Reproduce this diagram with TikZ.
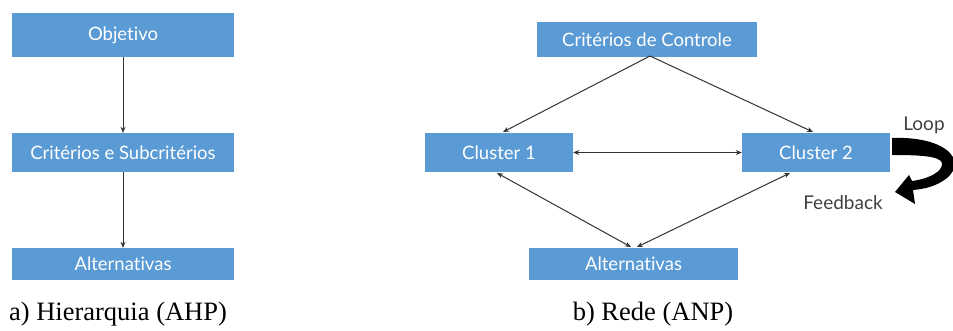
\documentclass[tikz,border=0pt]{standalone}
\usepackage{fontspec}
\setmainfont{Liberation Serif}
\newfontfamily\boxfont[Ligatures=NoCommon]{Lato}
\usetikzlibrary{arrows.meta}
\definecolor{boxblue}{HTML}{5B9BD5}
\definecolor{lblgray}{HTML}{404040}
\begin{document}
\begin{tikzpicture}[x=1pt,y=-1pt,
  blk/.style={fill=boxblue, draw=none, text=white, font=\boxfont\fontsize{18.5}{22}\selectfont, inner sep=0pt},
  link/.style={draw=black!80, line width=1pt, -{Stealth[length=6pt,width=5pt]}},
  dlink/.style={link, {Stealth[length=6pt,width=5pt]}-{Stealth[length=6pt,width=5pt]}},
  captext/.style={font=\fontsize{26.5}{30}\selectfont, anchor=center},
  note/.style={text=lblgray, font=\boxfont\fontsize{19}{22}\selectfont}]
\useasboundingbox (0,0) rectangle (953,331);
% a) hierarchy
\node[blk, minimum width=222pt, minimum height=44pt] (obj) at (123,35) {Objetivo};
\node[blk, minimum width=222pt, minimum height=39pt] (crit) at (123,152.5) {Critérios e Subcritérios};
\node[blk, minimum width=222pt, minimum height=32pt] (altA) at (123,264) {Alternativas};
\draw[link] (obj) -- (crit);
\draw[link] (crit) -- (altA);
\node[captext] (capA) at (118,314) {a) Hierarquia (AHP)};
% b) network
\node[blk, minimum width=220pt, minimum height=35pt] (ctrl) at (647,39.5) {Critérios de Controle};
\node[blk, minimum width=148pt, minimum height=39pt] (c1) at (499,152.5) {Cluster 1};
\node[blk, minimum width=148pt, minimum height=39pt] (c2) at (816,152.5) {Cluster 2};
\node[blk, minimum width=209pt, minimum height=32pt] (altB) at (633.5,264) {Alternativas};
\coordinate (ctrlb) at (650,56);
\coordinate (c1t) at (503,132);
\coordinate (c2t) at (813,132);
\coordinate (c1b) at (497,173);
\coordinate (c2b) at (790,173);
\coordinate (ab1) at (631,247);
\coordinate (ab2) at (637,247);
\draw[link] (ctrlb) -- (c1t);
\draw[link] (ctrlb) -- (c2t);
\draw[dlink] (c1) -- (c2);
\draw[dlink] (c1b) -- (ab1);
\draw[dlink] (c2b) -- (ab2);
\node[captext] (capB) at (653,314) {b) Rede (ANP)};
% tapered curved self-loop arrow beside cluster 2
\fill[black] (892,138) .. controls (945,136) and (968,160) .. (947,178)
  .. controls (937,186) and (925,189) .. (913,190)
  -- (915,204) -- (895,192) -- (909,175) -- (912,181)
  .. controls (928,179) and (943,172) .. (942,163)
  .. controls (940,156) and (920,155) .. (892,155) -- cycle;
\node[note] (loop) at (924,125) {Loop};
\node[note] (fb) at (843,203) {Feedback};
\end{tikzpicture}
\end{document}
